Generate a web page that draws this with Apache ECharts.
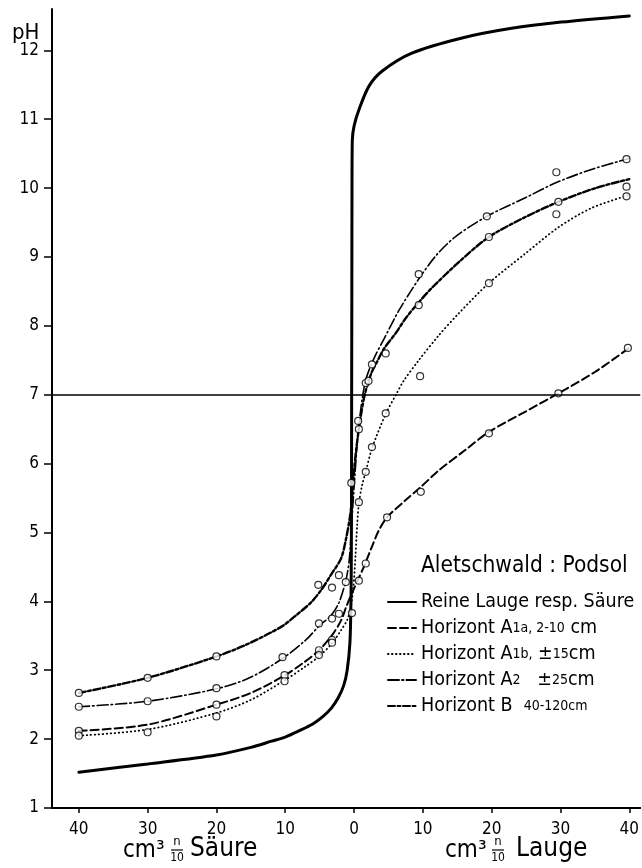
<!DOCTYPE html>
<html><head><meta charset="utf-8">
<script src="https://cdn.jsdelivr.net/npm/echarts@6/dist/echarts.min.js"></script>
<style>html,body{margin:0;padding:0;background:#fff}#c{width:642px;height:868px}</style>
</head><body><div id="c"></div>
<script>
// ---- data (x: cm3 n/10; negative = Säure, positive = Lauge; y: pH) ----
const xTicks = [-40, -30, -20, -10, 0, 10, 20, 30, 40];
const yTicks = [1, 2, 3, 4, 5, 6, 7, 8, 9, 10, 11, 12];
const seriesNames = ['Reine Lauge resp. Säure', 'Horizont A1a, 2-10 cm', 'Horizont A1b, ±15 cm', 'Horizont A2 ±25 cm', 'Horizont B 40-120 cm'];
const legendLabels = ['Reine Lauge resp. Säure', 'Horizont A{s|1a, 2-10} cm', 'Horizont A{s|1b,} ±{s|15}cm', 'Horizont A{s|2}   ±{s|25}cm', 'Horizont B  {s|40-120cm}'];
const neutralPH = 7;

const reineCurve = [[-40,1.52],[-30,1.64],[-20,1.77],[-15,1.88],[-12,1.97],[-10,2.03],[-8,2.12],[-6,2.22],[-4.5,2.33],[-3.3,2.45],[-2.3,2.6],[-1.5,2.78],[-1.0,3.0],[-0.6,3.4],[-0.45,4.0],[-0.4,4.6],[-0.37,5.5],[-0.35,7],[-0.32,8.5],[-0.3,10],[-0.25,10.7],[0,10.9],[0.72,11.14],[2.17,11.48],[4.1,11.7],[8.4,11.96],[15.7,12.18],[22.9,12.32],[30.1,12.41],[40,12.5]];
const a1aCurve = [[-40,2.12],[-30,2.21],[-20,2.5],[-15,2.67],[-10,2.93],[-7.2,3.12],[-5.1,3.29],[-3.2,3.51],[-1.9,3.72],[-1.1,3.93],[-0.3,4.12],[0.6,4.32],[1.5,4.52],[2.5,4.77],[3.6,5.03],[4.8,5.22],[7.5,5.47],[9.7,5.66],[12.3,5.9],[16.2,6.2],[19.6,6.46],[25,6.76],[29.7,7.02],[35,7.33],[40,7.68]];
const a1bCurve = [[-40,2.05],[-30,2.14],[-20,2.38],[-15,2.57],[-10,2.86],[-7,3.06],[-5.1,3.2],[-3.2,3.39],[-1.9,3.58],[-1,3.73],[-0.5,3.9],[-0.1,4.2],[0.2,4.65],[0.45,5.1],[0.7,5.42],[1.2,5.7],[1.7,5.88],[2.6,6.22],[4.6,6.72],[6.2,7.02],[7.2,7.2],[9.4,7.5],[12.3,7.86],[15.2,8.18],[19.6,8.62],[24.9,9.05],[29.7,9.43],[34.5,9.71],[40,9.9]];
const a2Curve = [[-40,2.47],[-30,2.55],[-20,2.73],[-15.2,2.89],[-10.4,3.17],[-7,3.44],[-5.1,3.64],[-3.3,3.8],[-2.2,3.98],[-1.2,4.3],[-0.7,4.6],[-0.3,5.2],[0.1,5.8],[0.6,6.45],[1.2,6.95],[1.8,7.25],[3.0,7.55],[4.3,7.8],[6.5,8.22],[9.4,8.68],[12,9.03],[14.8,9.3],[19.3,9.59],[24.9,9.86],[29.4,10.08],[34.5,10.27],[40,10.43]];
const bCurve = [[-40,2.67],[-30,2.89],[-20.3,3.19],[-15.7,3.37],[-10.6,3.63],[-8.4,3.8],[-6.2,3.99],[-4.6,4.19],[-3.2,4.41],[-1.9,4.62],[-1.2,4.89],[-0.5,5.3],[0,5.9],[0.4,6.28],[1.0,6.7],[1.6,7.02],[2.5,7.31],[3.2,7.45],[4.3,7.66],[6.1,7.9],[7.5,8.11],[9.4,8.34],[11.3,8.55],[15.5,8.95],[19.6,9.29],[24.9,9.58],[29.7,9.8],[35.1,10.0],[40,10.13]];

const a1aPoints = [[-40,2.12],[-20,2.5],[-10.1,2.93],[-5.1,3.29],[-3.2,3.44],[0.7,4.3],[1.7,4.55],[4.8,5.22],[9.7,5.59],[19.6,6.44],[29.7,7.02],[39.8,7.68]];
const a1bPoints = [[-40,2.05],[-30,2.1],[-20,2.33],[-10.1,2.84],[-5.1,3.22],[-3.2,3.4],[-0.3,3.83],[0.7,5.44],[1.7,5.88],[2.6,6.24],[4.6,6.73],[9.6,7.27],[19.6,8.62],[29.4,9.62],[39.6,9.88]];
const a2Points = [[-40,2.47],[-30,2.55],[-20,2.74],[-10.4,3.19],[-5.1,3.68],[-3.2,3.75],[-2.2,3.82],[-1.2,4.28],[0.7,6.5],[1.7,7.17],[2.6,7.44],[4.6,7.6],[9.4,8.75],[19.3,9.59],[29.4,10.23],[39.6,10.42]];
const bPoints = [[-40,2.67],[-30,2.89],[-20,3.2],[-5.2,4.24],[-3.2,4.2],[-2.2,4.38],[-0.4,5.72],[0.6,6.62],[2.1,7.2],[9.4,8.3],[19.6,9.29],[29.7,9.8],[39.6,10.02]];

// ---- chart ----
const F = "'Liberation Sans Narrow','DejaVu Sans Condensed','DejaVu Sans',sans-serif";
const chart = echarts.init(document.getElementById('c'), null, {renderer: 'canvas'});

function lineSeries(name, data, width, type) {
  return {
    name: name, type: 'line', data: data, smooth: 0.3, symbol: 'none',
    lineStyle: {color: '#000', width: width, type: type, cap: 'round'},
    itemStyle: {color: '#000'}, z: 3, silent: true, animation: false
  };
}
function pointSeries(name, data) {
  return {
    name: name, type: 'scatter', data: data, symbol: 'circle', symbolSize: 7,
    itemStyle: {color: '#fff', borderColor: '#000', borderWidth: 1.2}, z: 4, silent: true, animation: false
  };
}

const solid = lineSeries(seriesNames[0], reineCurve, 3, 'solid');
solid.markLine = {
  silent: true, symbol: 'none', animation: false,
  label: {show: false},
  lineStyle: {color: '#000', width: 1.6, type: 'solid'},
  data: [{yAxis: neutralPH}]
};

const option = {
  backgroundColor: '#fff',
  animation: false,
  grid: {left: 52, right: 0, top: 9, bottom: 60, containLabel: false},
  xAxis: {
    type: 'value', min: -43.9, max: 41.6,
    axisLine: {onZero: false, lineStyle: {color: '#000', width: 2}},
    axisTick: {show: true, length: 5, lineStyle: {color: '#000', width: 1.5}, customValues: xTicks},
    axisLabel: {color: '#000', fontSize: 17, fontFamily: F, margin: 13, customValues: xTicks,
      formatter: v => String(Math.abs(v))},
    splitLine: {show: false}
  },
  yAxis: {
    type: 'value', min: 1, max: 12.6,
    axisLine: {onZero: false, lineStyle: {color: '#000', width: 2}},
    axisTick: {show: true, length: 8, lineStyle: {color: '#000', width: 1.5}, customValues: yTicks},
    axisLabel: {color: '#000', fontSize: 17, fontFamily: F, margin: 13, customValues: yTicks},
    splitLine: {show: false}
  },
  legend: {
    data: seriesNames, orient: 'vertical', left: 382, top: 586,
    itemWidth: 28, itemHeight: 14, itemGap: 4, selectedMode: false,
    itemStyle: {opacity: 0, borderWidth: 0},
    textStyle: {color: '#000', fontSize: 19.5, lineHeight: 22, fontFamily: F,
      rich: {s: {fontSize: 14, lineHeight: 22, fontFamily: F, color: '#000'}}},
    formatter: name => legendLabels[seriesNames.indexOf(name)]
  },
  graphic: [
    {type: 'text', left: 12, top: 22, style: {text: 'pH', fontSize: 22, fontFamily: F, fill: '#000'}},
    {type: 'text', left: 421, top: 555, style: {text: 'Aletschwald : Podsol', fontSize: 22.5, fontFamily: F, fill: '#000'}},
    // Säure axis name
    {type: 'text', left: 123, top: 839, style: {text: 'cm³', fontSize: 24, fontFamily: F, fill: '#000'}},
    {type: 'text', x: 177, y: 848, style: {text: 'n', fontSize: 13, fontFamily: F, fill: '#000', align: 'center', verticalAlign: 'bottom'}},
    {type: 'line', shape: {x1: 171, y1: 850, x2: 183, y2: 850}, style: {stroke: '#000', lineWidth: 1.2}},
    {type: 'text', x: 177, y: 852, style: {text: '10', fontSize: 12, fontFamily: F, fill: '#000', align: 'center', verticalAlign: 'top'}},
    {type: 'text', left: 190, top: 836, style: {text: 'Säure', fontSize: 26, fontFamily: F, fill: '#000'}},
    // Lauge axis name
    {type: 'text', left: 445, top: 839, style: {text: 'cm³', fontSize: 24, fontFamily: F, fill: '#000'}},
    {type: 'text', x: 498, y: 848, style: {text: 'n', fontSize: 13, fontFamily: F, fill: '#000', align: 'center', verticalAlign: 'bottom'}},
    {type: 'line', shape: {x1: 492, y1: 850, x2: 504, y2: 850}, style: {stroke: '#000', lineWidth: 1.2}},
    {type: 'text', x: 498, y: 852, style: {text: '10', fontSize: 12, fontFamily: F, fill: '#000', align: 'center', verticalAlign: 'top'}},
    {type: 'text', left: 516, top: 836, style: {text: 'Lauge', fontSize: 26, fontFamily: F, fill: '#000'}}
  ],
  series: [
    solid,
    lineSeries(seriesNames[1], a1aCurve, 2, [8, 4]),
    lineSeries(seriesNames[2], a1bCurve, 1.8, [0.5, 3.5]),
    lineSeries(seriesNames[3], a2Curve, 1.6, [11, 3, 1.5, 3]),
    lineSeries(seriesNames[4], bCurve, 2.4, [7, 2.5, 3, 2.5]),
    pointSeries('Messpunkte A1a', a1aPoints),
    pointSeries('Messpunkte A1b', a1bPoints),
    pointSeries('Messpunkte A2', a2Points),
    pointSeries('Messpunkte B', bPoints)
  ]
};
chart.setOption(option);
</script></body></html>
